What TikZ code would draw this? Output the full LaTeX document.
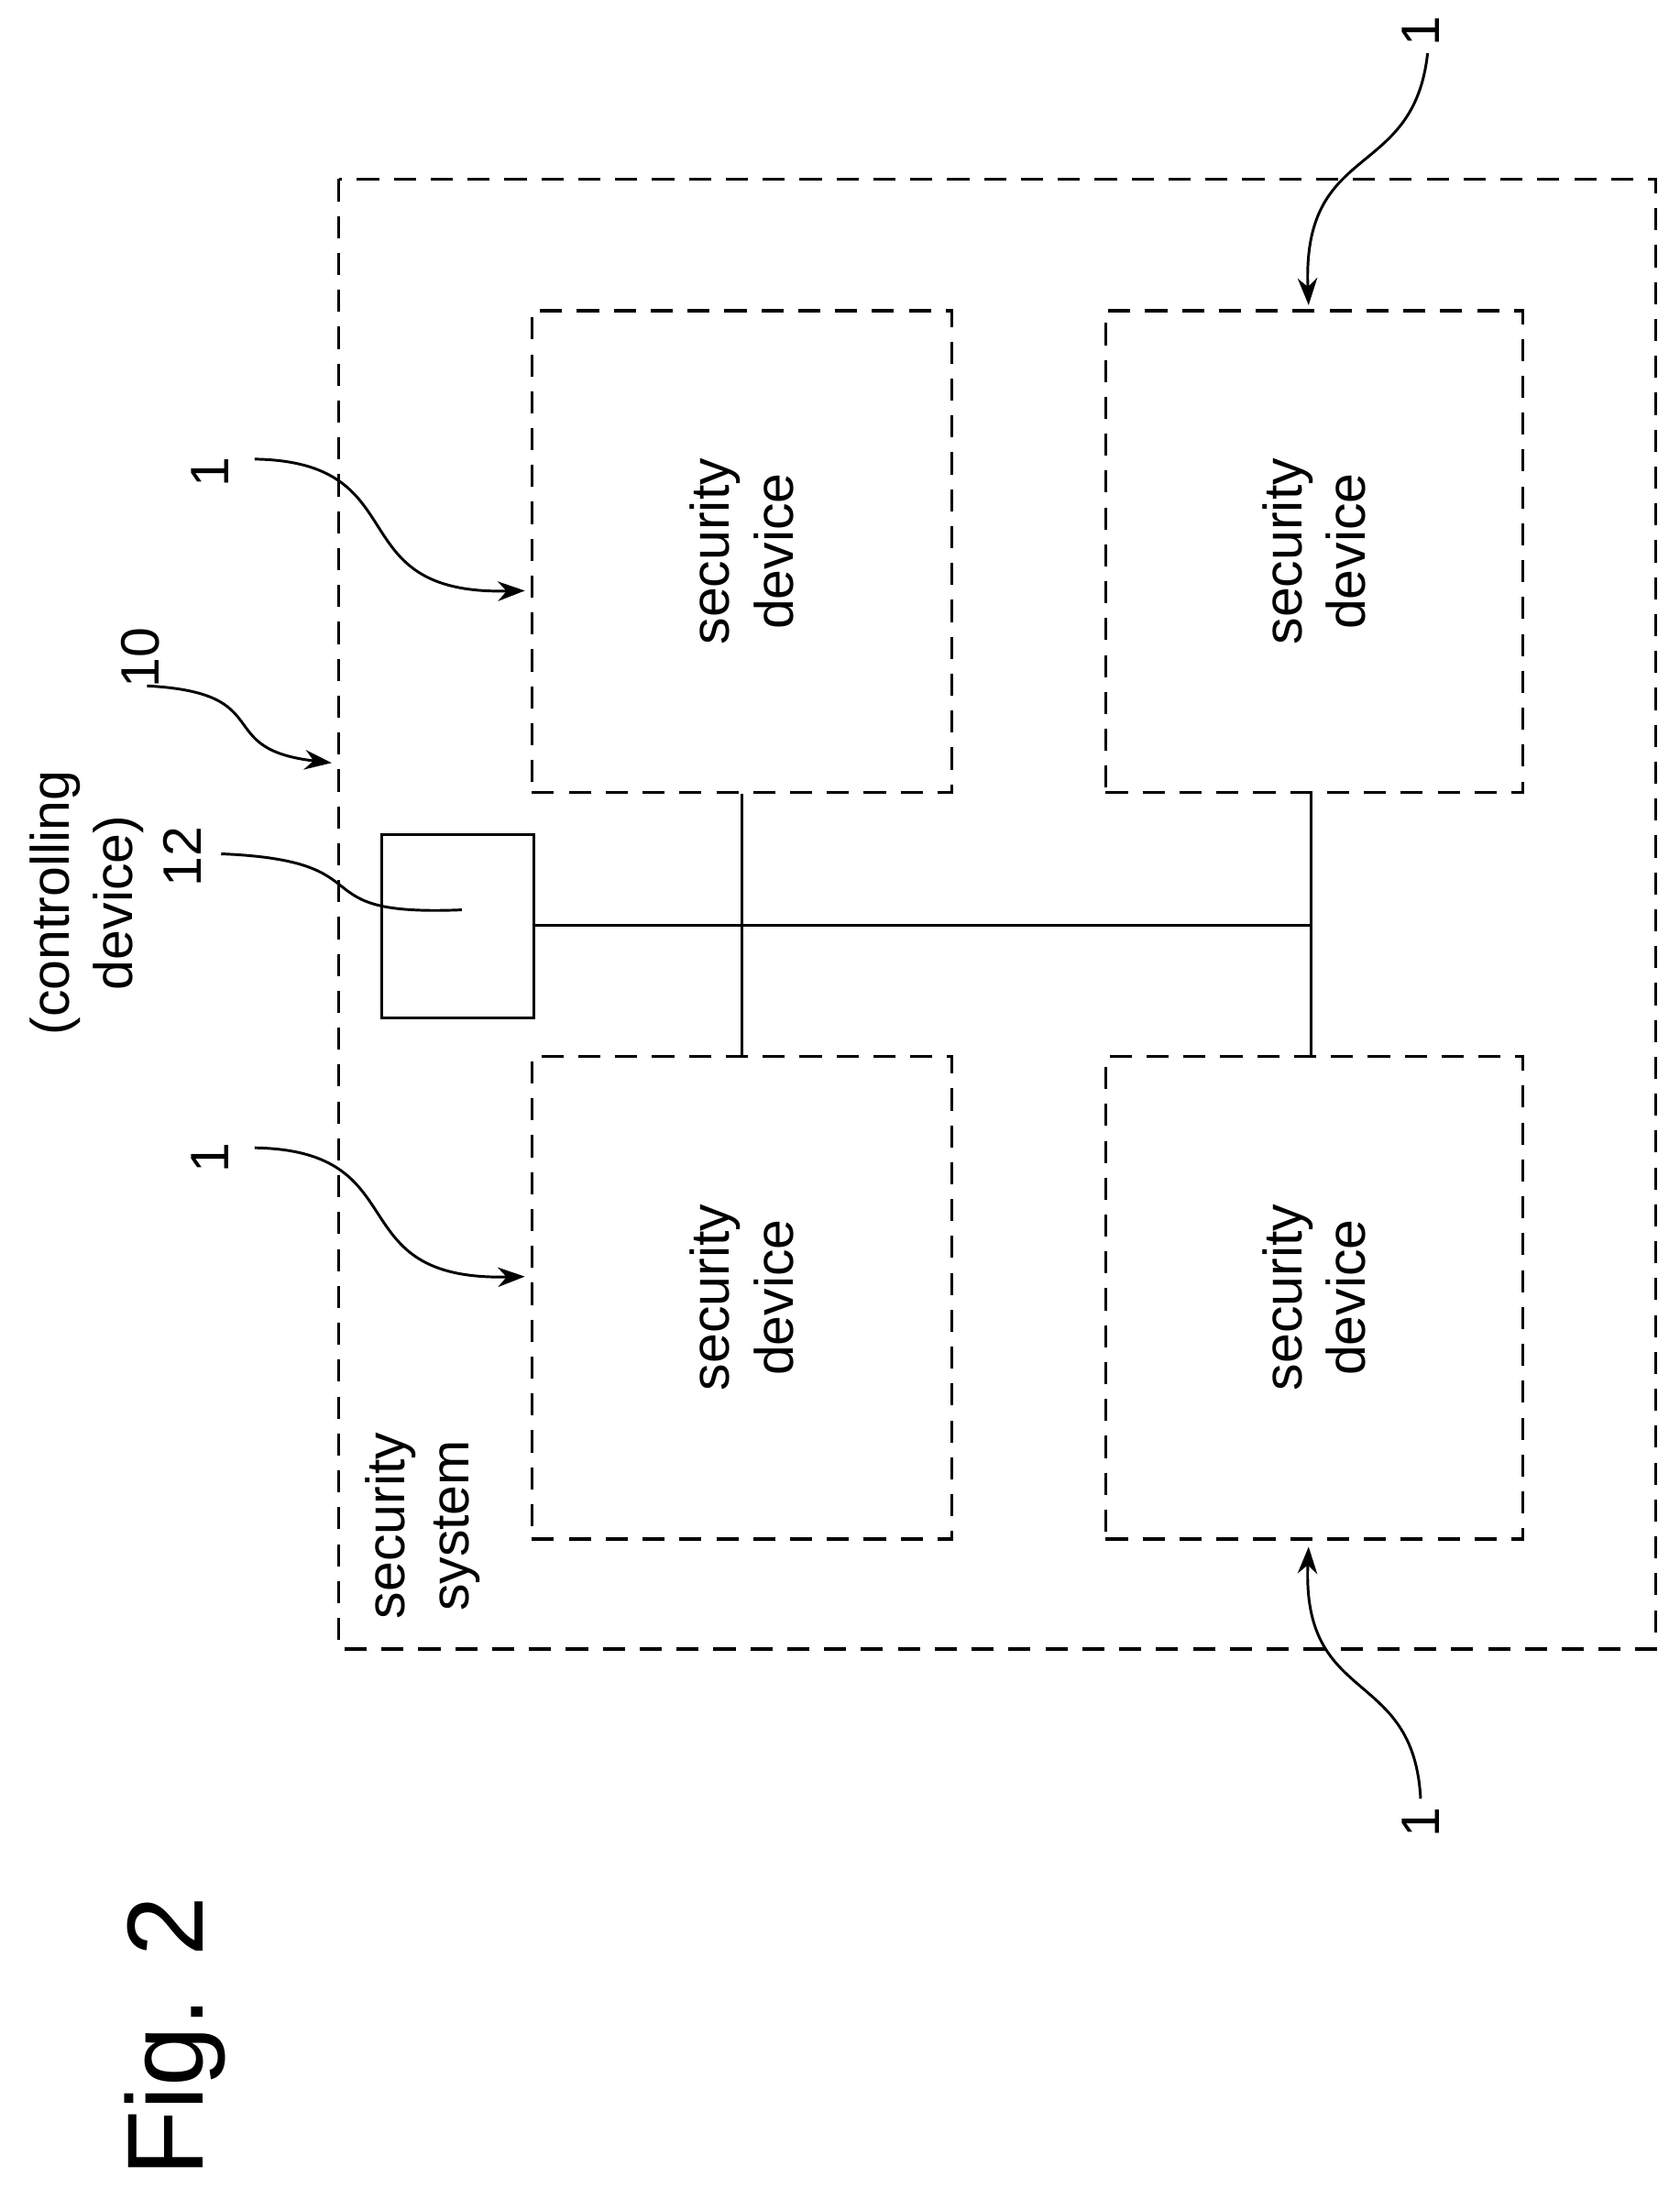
\documentclass[tikz,border=0pt]{standalone}
\usepackage{fontspec}
\setmainfont{Liberation Sans}
\usetikzlibrary{arrows.meta}
\tikzset{
  dev/.style={draw,dashed,line width=1.2pt,dash pattern=on 9pt off 6pt},
  lbl/.style={rotate=90,font=\fontsize{22}{26}\selectfont,align=center},
  lead/.style={line width=1.1pt,-{Stealth[length=11pt,width=8pt]}},
}
\begin{document}
\begin{tikzpicture}[x=0.02cm,y=-0.02cm]
  \useasboundingbox (0,0) rectangle (1200,1571);
  % system and devices
  \draw[dev] (242,128) rectangle (1183,1178);
  \node[dev,minimum width=300*0.02cm,minimum height=344*0.02cm] (d1) at (530,394) {};
  \node[dev,minimum width=298*0.02cm,minimum height=344*0.02cm] (d2) at (939,394) {};
  \node[dev,minimum width=300*0.02cm,minimum height=345*0.02cm] (d3) at (530,927) {};
  \node[dev,minimum width=298*0.02cm,minimum height=345*0.02cm] (d4) at (939,927) {};
  \foreach \n in {d1,d2,d3,d4}
    \node[lbl] at (\n) {security\\device};
  \node[lbl] at (302,1090) {security\\system};
  % controlling device
  \node[draw,line width=1.1pt,minimum width=109*0.02cm,minimum height=131*0.02cm] (ctl) at (327,662) {};
  \coordinate (j1) at (530,661);
  \coordinate (j2) at (937,661);
  \draw[line width=1.1pt] (ctl.east |- j1) -- (j2);
  \draw[line width=1.1pt] (d1.south -| j1) -- (d3.north -| j1);
  \draw[line width=1.1pt] (d2.south -| j2) -- (d4.north -| j2);
  % labels
  \node[lbl] (tc) at (62,645) {(controlling\\device)};
  \node[lbl] (t12) at (130,612) {12};
  \node[lbl] (t10) at (100,470) {10};
  \node[lbl] (ta) at (150,337) {1};
  \node[lbl] (tb) at (150,827) {1};
  \node[lbl] (tc1) at (1015,22) {1};
  \node[lbl] (td) at (1015,1302) {1};
  \draw[line width=1.1pt] (158,610) .. controls (280,615) and (210,655) .. (330,650);
  \draw[lead] (105,490) .. controls (200,495) and (150,535) .. (237,545);
  \draw[lead] (182,328) .. controls (300,330) and (240,425) .. (375,422);
  \draw[lead] (182,820) .. controls (300,822) and (240,915) .. (375,912);
  \draw[lead] (1020,38) .. controls (1010,130) and (930,100) .. (935,218);
  \draw[lead] (1015,1285) .. controls (1010,1190) and (930,1220) .. (935,1105);
  \node[rotate=90,font=\fontsize{44}{50}\selectfont] at (125,1455) {Fig. 2};
\end{tikzpicture}
\end{document}
